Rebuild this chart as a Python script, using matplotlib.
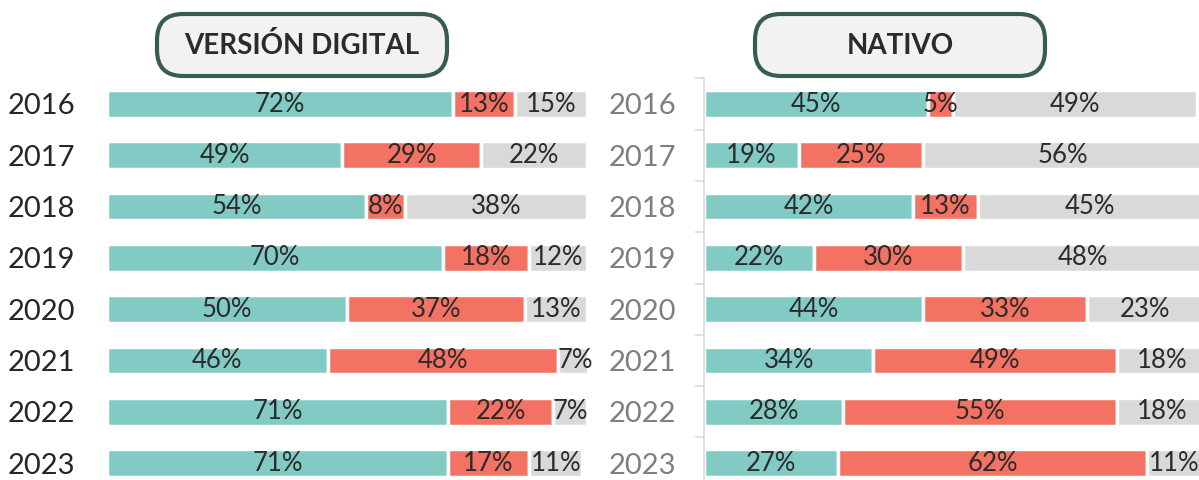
import matplotlib
matplotlib.use('Agg')
import matplotlib.pyplot as plt
from matplotlib.patches import FancyBboxPatch
import numpy as np

years = ['2016', '2017', '2018', '2019', '2020', '2021', '2022', '2023']

digital_a = [72, 49, 54, 70, 50, 46, 71, 71]
digital_b = [13, 29, 8, 18, 37, 48, 22, 17]
digital_c = [15, 22, 38, 12, 13, 7, 7, 11]

nativo_a = [45, 19, 42, 22, 44, 34, 28, 27]
nativo_b = [5, 25, 13, 30, 33, 49, 55, 62]
nativo_c = [49, 56, 45, 48, 23, 18, 18, 11]

TEAL = '#82CBC4'
RED = '#F47264'
GREY = '#D9D9D9'
TXT = '#2B2B2B'

plt.rcParams['font.family'] = ['Lato', 'DejaVu Sans']

W, H = 1199, 480
fig = plt.figure(figsize=(W / 100, H / 100), dpi=100)


def px_axes(x0, x1, y_top, y_bot):
    # pixel box (origin top-left) -> figure fraction
    return fig.add_axes([x0 / W, 1 - y_bot / H, (x1 - x0) / W, (y_bot - y_top) / H])


def draw_panel(ax, a, b, c, year_color, show_axis):
    y = np.arange(len(years))
    h = 0.54
    left = np.zeros(len(years))
    for vals, col in [(a, TEAL), (b, RED), (c, GREY)]:
        bars = ax.barh(y, vals, left=left, height=h, color=col,
                       edgecolor='white', linewidth=2.5)
        for rect, v in zip(bars, vals):
            ax.text(rect.get_x() + rect.get_width() / 2, rect.get_y() + rect.get_height() / 2,
                    f'{v}%', ha='center', va='center', fontsize=18.5, color=TXT)
        left = left + np.array(vals)
    ax.set_yticks(y)
    ax.set_yticklabels(years, fontsize=21, color=year_color)
    ax.set_xticks([])
    for s in ['top', 'right', 'bottom']:
        ax.spines[s].set_visible(False)
    if show_axis:
        ax.spines['left'].set_color(GREY)
        ax.spines['left'].set_linewidth(1.2)
        ax.set_yticks(np.arange(-0.5, len(years), 1), minor=True)
        ax.tick_params(axis='y', which='minor', length=6.5, width=1.2, color=GREY)
        ax.tick_params(axis='y', which='major', length=0, pad=20)
    else:
        ax.spines['left'].set_visible(False)
        ax.tick_params(axis='y', which='major', length=0, pad=23)
    # row spacing 51.3px, first row centre at 104px, axes top 78px
    ax.set_ylim((480 - 104) / 51.3, (78 - 104) / 51.3)
    ax.set_xlim(0, 100)


ax1 = px_axes(107, 587, 78, 480)
draw_panel(ax1, digital_a, digital_b, digital_c, '#262626', False)

ax2 = px_axes(704, 1202, 78, 480)
draw_panel(ax2, nativo_a, nativo_b, nativo_c, '#7F7F7F', True)

# header boxes
for x0, label in [(157, 'VERSIÓN DIGITAL'), (755, 'NATIVO')]:
    box = FancyBboxPatch((x0 / 100, (H - 76) / 100), 2.90, 0.62,
                         boxstyle='round,pad=0,rounding_size=0.26',
                         transform=fig.dpi_scale_trans, facecolor='#F2F2F2',
                         edgecolor='#385B55', linewidth=3)
    fig.patches.append(box)
    fig.text((x0 + 145) / W, 1 - 46 / H, label, ha='center', va='center',
             fontsize=20, fontweight='bold', color=TXT)

plt.savefig('out.png', dpi=100)
